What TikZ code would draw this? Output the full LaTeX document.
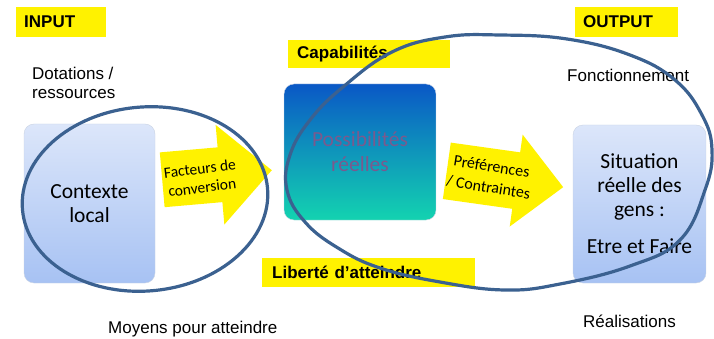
\documentclass[tikz,border=0pt]{standalone}
\usepackage{fontspec}
\setmainfont{Liberation Sans}
\newfontfamily\calibri{Carlito}
\definecolor{ovalblue}{HTML}{3B6190}
\definecolor{boxtop}{HTML}{DCE6FA}
\definecolor{boxbot}{HTML}{A7C2F3}
\definecolor{boxline}{HTML}{C9D3E3}
\definecolor{posstop}{HTML}{0A58C6}
\definecolor{possmid}{HTML}{1A9FD9}
\definecolor{possbot}{HTML}{13D3B0}
\definecolor{posstext}{HTML}{7A5A8E}
\tikzset{
  labelbox/.style={fill=yellow, font=\bfseries\fontsize{17}{20}\selectfont, anchor=west, align=left, inner ysep=0pt},
  plainlabel/.style={font=\fontsize{17}{19}\selectfont, inner sep=0pt, align=left},
  lightbox/.style={rounded corners=10pt, draw=boxline, top color=boxtop, bottom color=boxbot, align=center, font=\calibri\fontsize{21.5}{24}\selectfont},
  possbox/.style={rounded corners=10pt, draw=boxline, top color=posstop, middle color=possmid, bottom color=possbot, align=center, text=posstext, font=\calibri\fontsize{21.5}{25}\selectfont},
  arrowtext/.style={font=\calibri\fontsize{15.5}{19}\selectfont, align=center, inner sep=0pt},
  oval/.style={draw=ovalblue, line width=3.2pt},
}
\begin{document}
\begin{tikzpicture}[x=1pt, y=-1pt]
  \useasboundingbox (0,0) rectangle (714,339);
  % titres jaunes
  \node[labelbox, text width=74pt, inner xsep=8pt, minimum height=30pt] (input) at (16,22) {INPUT};
  \node[labelbox, text width=87pt, inner xsep=8pt, minimum height=30pt] (output) at (575,22) {OUTPUT};
  \node[labelbox, text width=144pt, inner xsep=9pt, minimum height=28pt] (capab) at (288,54) {Capabilités};
  \node[labelbox, text width=193pt, inner xsep=10pt, minimum height=29pt] (liberte) at (262,272.5) {Liberté d’atteindre};
  % textes libres
  \node[plainlabel, anchor=north west] (dotations) at (32,67) {Dotations /\\ressources};
  \node[plainlabel, anchor=base west] (fonction) at (567,82) {Fonctionnement};
  \node[plainlabel, anchor=base west] (moyens) at (108,333) {Moyens pour atteindre};
  \node[plainlabel, anchor=base west] (realis) at (583,327) {Réalisations};
  % boites
  \node[lightbox, minimum width=131pt, minimum height=159pt] (contexte) at (89.5,203.5) {Contexte\\local};
  \node[possbox, minimum width=152pt, minimum height=136pt] (possib) at (360,152) {Possibilités\\réelles};
  \node[lightbox, minimum width=133pt, minimum height=158pt] (situation) at (639.5,204) {Situation\\réelle des\\gens :\\[13pt]Etre et Faire};
  % fleches jaunes
  \begin{scope}[shift={(217,175)}, rotate=5]
    \fill[yellow] (-55,-27.5) -- (3,-27.5) -- (3,-50) -- (55,0) -- (3,50) -- (3,27.5) -- (-55,27.5) -- cycle;
  \end{scope}
  \node[arrowtext, rotate=7] (facteurs) at (201,178) {Facteurs de\\conversion};
  \begin{scope}[shift={(505,179)}, rotate=-8]
    \fill[yellow] (-58.75,-28.5) -- (11.3,-28.5) -- (11.3,-46.4) -- (58.75,0) -- (11.3,46.4) -- (11.3,28.5) -- (-58.75,28.5) -- cycle;
  \end{scope}
  \node[arrowtext, rotate=-9, font=\calibri\fontsize{16}{21}\selectfont] (prefs) at (490,177) {Préférences\\/ Contraintes};
  % ovales
  \draw[oval, rotate around={5:(145,199)}] (145,199) ellipse (123 and 92);
  \draw[oval] plot[smooth cycle, tension=0.7] coordinates {(500,35) (567,39) (630,55) (675,80) (702,115) (712,150) (705,190) (680,240) (630,266) (560,284) (505,290) (440,282) (380,268) (338,248) (305,222) (287,190) (290,155) (310,120) (343,87) (392,52) (445,37)};
\end{tikzpicture}
\end{document}
